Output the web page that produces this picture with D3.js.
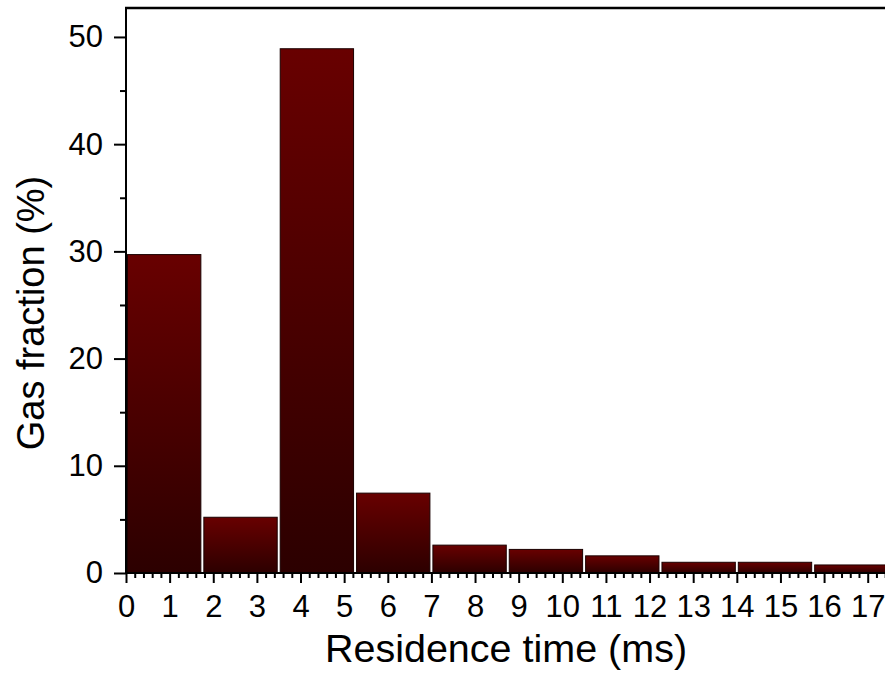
<!DOCTYPE html>
<html>
<head>
<meta charset="utf-8">
<script src="https://cdn.jsdelivr.net/npm/d3@7"></script>
<style>
  html, body { margin: 0; padding: 0; background: #fff; }
  svg { display: block; }
  text { font-family: "Liberation Sans", Arial, sans-serif; fill: #000; }
</style>
</head>
<body>
<svg id="chart" width="885" height="693"></svg>
<script>
// ---- data ----
const binWidth = 1.75;                       // ms per bin
const binStarts = [0, 1.75, 3.5, 5.25, 7, 8.75, 10.5, 12.25, 14, 15.75];
const gasFraction = [29.7, 5.2, 48.9, 7.45, 2.6, 2.2, 1.6, 1.0, 1.0, 0.75];
const xTickValues = [0,1,2,3,4,5,6,7,8,9,10,11,12,13,14,15,16,17];
const yTickValues = [0, 10, 20, 30, 40, 50];
const xTitle = "Residence time (ms)";
const yTitle = "Gas fraction (%)";

// ---- layout ----
const svg = d3.select("#chart");
const x0px = 126, pxPerMs = 43.63;
const x = d3.scaleLinear().domain([0, 18.5]).range([x0px, x0px + 18.5 * pxPerMs]);
const y = d3.scaleLinear().domain([0, 52.7]).range([573, 8]);

const defs = svg.append("defs");
const grad = defs.append("linearGradient")
  .attr("id", "barGrad").attr("x1", 0).attr("y1", 0).attr("x2", 0).attr("y2", 1);
grad.append("stop").attr("offset", "0%").attr("stop-color", "#680000");
grad.append("stop").attr("offset", "100%").attr("stop-color", "#2c0000");

// bars
svg.append("g").selectAll("rect")
  .data(gasFraction.map((v, i) => ({ start: binStarts[i], v })))
  .join("rect")
  .attr("x", d => x(d.start) + 1.5)
  .attr("width", d => x(d.start + binWidth) - x(d.start) - 3)
  .attr("y", d => y(d.v))
  .attr("height", d => y(0) - y(d.v))
  .attr("fill", "url(#barGrad)")
  .attr("stroke", "#1a0000")
  .attr("stroke-width", 1);

const LBL = 31;

// x axis
const xAxis = svg.append("g").attr("transform", `translate(0,${y(0)})`);
xAxis.call(d3.axisBottom(x).tickValues(d3.range(0, 18.01, 0.2).filter(v => Math.abs(v - Math.round(v)) > 1e-6))
  .tickSize(5).tickFormat(""))
  .call(g => g.select(".domain").remove());
const xMajor = svg.append("g").attr("transform", `translate(0,${y(0)})`)
  .call(d3.axisBottom(x).tickValues(xTickValues).tickSize(10).tickPadding(12).tickFormat(d3.format("d")));
xMajor.attr("font-size", LBL).attr("font-family", "Liberation Sans, Arial, sans-serif");
xMajor.select(".domain").remove();

// y axis
const yMinor = svg.append("g").attr("transform", `translate(${x0px},0)`)
  .call(d3.axisLeft(y).tickValues([5, 15, 25, 35, 45]).tickSize(6).tickFormat(""));
yMinor.select(".domain").remove();
const yMajor = svg.append("g").attr("transform", `translate(${x0px},0)`)
  .call(d3.axisLeft(y).tickValues(yTickValues).tickSize(12).tickPadding(11).tickFormat(d3.format("d")));
yMajor.attr("font-size", LBL).attr("font-family", "Liberation Sans, Arial, sans-serif");
yMajor.select(".domain").remove();
svg.selectAll(".tick line").attr("stroke", "#000").attr("stroke-width", 2);
svg.selectAll(".tick text").attr("fill", "#000").style("font-size", LBL + "px");

// frame lines
svg.append("line").attr("x1", x0px).attr("x2", 885).attr("y1", y(0)).attr("y2", y(0))
  .attr("stroke", "#000").attr("stroke-width", 2);
svg.append("line").attr("x1", x0px).attr("x2", x0px).attr("y1", y.range()[1]).attr("y2", y(0))
  .attr("stroke", "#000").attr("stroke-width", 2);
svg.append("line").attr("x1", x0px - 1).attr("x2", 885).attr("y1", y.range()[1]).attr("y2", y.range()[1])
  .attr("stroke", "#000").attr("stroke-width", 2.5);

// titles
svg.append("text").attr("x", 506).attr("y", 662).attr("text-anchor", "middle")
  .style("font-size", "39.5px").text(xTitle);
svg.append("text").attr("transform", "translate(44,313) rotate(-90)").attr("text-anchor", "middle")
  .style("font-size", "38px").text(yTitle);
</script>
</body>
</html>
